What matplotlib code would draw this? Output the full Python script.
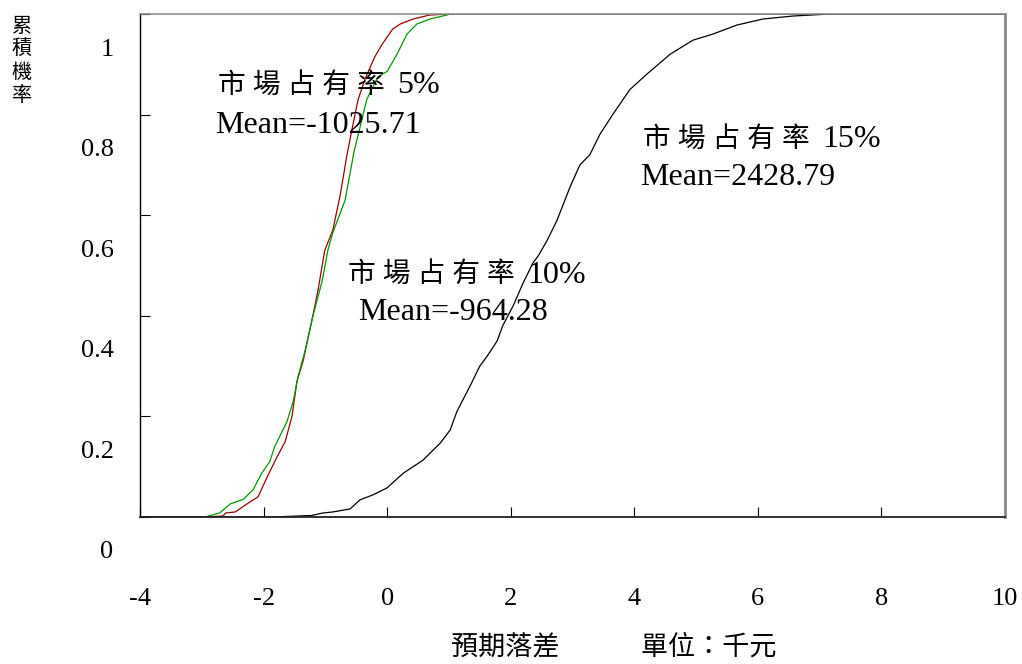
import matplotlib
matplotlib.use("Agg")
import matplotlib.pyplot as plt
from matplotlib.transforms import ScaledTranslation

# 累積機率曲線資料 (x: 千元)
x_5 = [-4, -2.92, -2.66, -2.61, -2.46, -2.22, -2.09, -1.94, -1.78, -1.65, -1.54, -1.46,
       -1.36, -1.22, -1.12, -1.01, -0.88, -0.76, -0.65, -0.57, -0.47, -0.36, -0.20,
       -0.08, 0.09, 0.21, 0.42, 0.69, 1.02, 10]
y_5 = [0, 0, 0.002, 0.008, 0.01, 0.03, 0.04, 0.08, 0.12, 0.15, 0.20, 0.27,
       0.31, 0.39, 0.45, 0.53, 0.57, 0.64, 0.72, 0.77, 0.83, 0.87, 0.915,
       0.94, 0.97, 0.98, 0.99, 0.998, 1, 1]

x_10 = [-4, -2.95, -2.71, -2.54, -2.33, -2.17, -2.03, -1.90, -1.82, -1.62, -1.52, -1.44,
        -1.33, -1.20, -1.05, -0.96, -0.88, -0.68, -0.54, -0.33, -0.15, 0.0, 0.16,
        0.32, 0.48, 0.69, 0.97, 1.02, 10]
y_10 = [0, 0, 0.008, 0.026, 0.035, 0.054, 0.087, 0.11, 0.14, 0.19, 0.23, 0.28,
        0.33, 0.40, 0.47, 0.53, 0.565, 0.63, 0.724, 0.83, 0.875, 0.886, 0.92,
        0.96, 0.98, 0.99, 0.998, 1, 1]

x_15 = [-4, -1.86, -1.22, -1.04, -0.88, -0.60, -0.44, -0.23, 0.0, 0.26, 0.58, 0.86,
        1.02, 1.13, 1.34, 1.50, 1.62, 1.78, 1.87, 2.04, 2.20, 2.36, 2.45, 2.59,
        2.75, 2.96, 3.12, 3.28, 3.44, 3.65, 3.93, 4.20, 4.58, 4.95, 5.27, 5.66,
        6.08, 6.57, 7.17, 10]
y_15 = [0, 0, 0.003, 0.008, 0.01, 0.016, 0.034, 0.044, 0.058, 0.087, 0.113, 0.147,
        0.173, 0.21, 0.26, 0.30, 0.32, 0.35, 0.38, 0.42, 0.465, 0.505, 0.52, 0.55,
        0.59, 0.656, 0.70, 0.72, 0.76, 0.80, 0.85, 0.88, 0.92, 0.948, 0.96, 0.978,
        0.99, 0.996, 1.0, 1.0]

share_labels = ["市場占有率 5%", "市場占有率 10%", "市場占有率 15%"]
mean_labels = ["Mean=-1025.71", "Mean=-964.28", "Mean=2428.79"]
# 標註位置 (資料座標)
share_pos = [(-2.74, 0.857), (-0.63, 0.481), (4.14, 0.750)]
mean_pos = [(-2.79, 0.779), (-0.47, 0.406), (4.09, 0.674)]

x_ticks = [-4, -2, 0, 2, 4, 6, 8, 10]
y_ticks = [0, 0.2, 0.4, 0.6, 0.8, 1]
y_tick_labels = ["0", "0.2", "0.4", "0.6", "0.8", "1"]

mixed = ["Liberation Serif", "Noto Sans CJK TC"]

fig = plt.figure(figsize=(10.22, 6.64), dpi=100)
ax = fig.add_axes([140 / 1022, 147 / 664, 865 / 1022, 503 / 664])

ax.plot(x_5, y_5, color="#990000", lw=0.9)
ax.plot(x_10, y_10, color="#009900", lw=0.9)
ax.plot(x_15, y_15, color="black", lw=0.9)

ax.set_xlim(-4, 10)
ax.set_ylim(0, 1)

ax.set_xticks(x_ticks)
ax.set_xticklabels([str(v) for v in x_ticks], family="Liberation Serif", fontsize=19)
ax.set_yticks(y_ticks)
ax.set_yticklabels(y_tick_labels, family="Liberation Serif", fontsize=19)
ax.tick_params(axis="x", direction="in", length=7, width=0.8, pad=51)
ax.tick_params(axis="y", direction="in", length=7, width=0.8, pad=19)

# y 軸刻度文字往下位移
shift = ScaledTranslation(0, -0.33, fig.dpi_scale_trans)
for lab in ax.get_yticklabels():
    lab.set_transform(lab.get_transform() + shift)

ax.spines["left"].set_color("black")
ax.spines["left"].set_linewidth(1.0)
ax.spines["bottom"].set_color("#222222")
ax.spines["bottom"].set_linewidth(1.3)
ax.spines["top"].set_color("#888888")
ax.spines["top"].set_linewidth(1.1)
ax.spines["right"].set_color("#888888")
ax.spines["right"].set_linewidth(2.0)

for txt, (tx, ty) in zip(share_labels, share_pos):
    head, tail = txt.split(" ")
    # 中文字之間加空白, 百分比接在後面
    t = ax.text(tx, ty, " ".join(head), family=mixed, fontsize=20,
                ha="left", va="center")
    ax.annotate(tail, xy=(1, 0.5), xycoords=t, xytext=(9, 0),
                textcoords="offset points", family="Liberation Serif",
                fontsize=23, ha="left", va="center")
for txt, (tx, ty) in zip(mean_labels, mean_pos):
    ax.text(tx, ty, txt, family="Liberation Serif", fontsize=23, ha="left", va="center")

# 座標軸標題
fig.text(614 / 1022, 1 - 647 / 664, "預期落差\u3000\u3000\u3000單位：千元",
         family="Noto Sans CJK TC", fontsize=19.5, ha="center", va="center")
for i, ch in enumerate("累積機率"):
    fig.text(22 / 1022, 1 - (26 + i * 23.3) / 664, ch,
             family="Noto Sans CJK TC", fontsize=14.5, ha="center", va="center")

fig.savefig("out.png", dpi=100)
